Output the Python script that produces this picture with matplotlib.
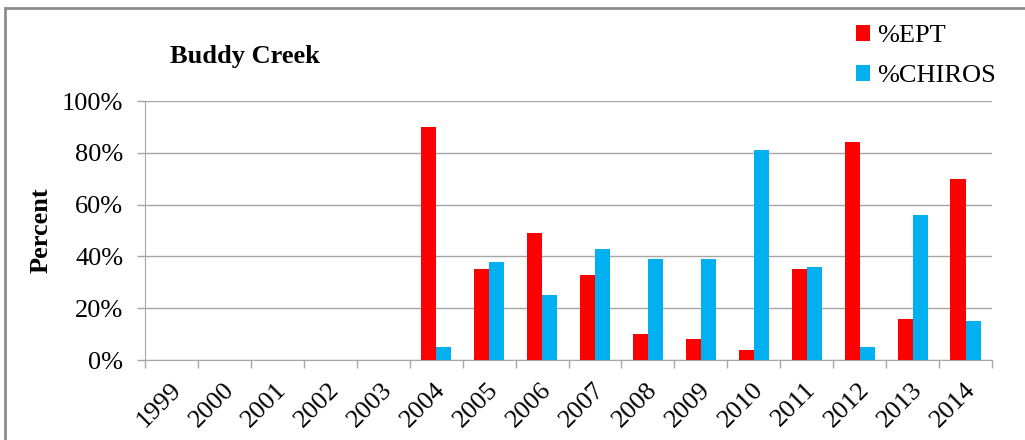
import numpy as np
import matplotlib.pyplot as plt
import matplotlib.transforms as mtransforms
from matplotlib.patches import Rectangle

years = ['1999', '2000', '2001', '2002', '2003', '2004', '2005', '2006',
         '2007', '2008', '2009', '2010', '2011', '2012', '2013', '2014']
ept = [0, 0, 0, 0, 0, 90, 35, 49, 33, 10, 8, 4, 35, 84, 16, 70]
chiros = [0, 0, 0, 0, 0, 5, 38, 25, 43, 39, 39, 81, 36, 5, 56, 15]

plt.rcParams['font.family'] = ['Liberation Serif', 'DejaVu Serif']
fs = 19

fig = plt.figure(figsize=(10.25, 4.4), dpi=100)
ax = fig.add_axes([145/1025, 80/440, 847/1025, 259/440])

x = np.arange(len(years))
w = 0.285
ax.bar(x - w/2, ept, w, color='#FF0000', label='%EPT', zorder=3)
ax.bar(x + w/2, chiros, w, color='#00B0F0', label='%CHIROS', zorder=3)

ax.set_xlim(-0.5, len(years) - 0.5)
ax.set_ylim(0, 100)
ax.set_yticks(range(0, 101, 20))
ax.set_yticklabels([f'{v}%' for v in range(0, 101, 20)], fontsize=fs)
ax.yaxis.grid(True, color='#A6A6A6', lw=1, zorder=0)

ax.set_xticks(np.arange(-0.5, len(years), 1))
ax.set_xticklabels([])
ax.set_xticks(x, minor=True)
ax.set_xticklabels(years, minor=True, rotation=45, ha='right',
                   rotation_mode='anchor', va='center', fontsize=fs)
ax.tick_params(axis='x', which='minor', length=0, pad=19)
ax.tick_params(axis='both', which='major', length=6, color='#A6A6A6', width=1)
ax.tick_params(axis='y', pad=9.5)
# nudge the rotated year labels a little to the right
shift = mtransforms.ScaledTranslation(6/100, 0, fig.dpi_scale_trans)
for lab in ax.get_xticklabels(minor=True):
    lab.set_transform(lab.get_transform() + shift)

for s in ['top', 'right']:
    ax.spines[s].set_visible(False)
for s in ['left', 'bottom']:
    ax.spines[s].set_color('#A6A6A6')

ax.set_ylabel('Percent', fontsize=fs, fontweight='bold', labelpad=7)
fig.text(170/1025, 1 - 57/440, 'Buddy Creek', fontsize=fs, fontweight='bold',
         va='center', ha='left')

fig.legend(loc='upper left', bbox_to_anchor=(832/1025, 1 - 1/440),
           frameon=False, fontsize=fs, handlelength=0.55, handleheight=0.55,
           handletextpad=0.25, labelspacing=0.68)

fig.patches.append(Rectangle((5/1025, -0.1), 1.2, 1 - 8/440 + 0.1,
                             transform=fig.transFigure, fill=False,
                             edgecolor='#8C8C8C', lw=2))

plt.savefig('out.png', dpi=100)
